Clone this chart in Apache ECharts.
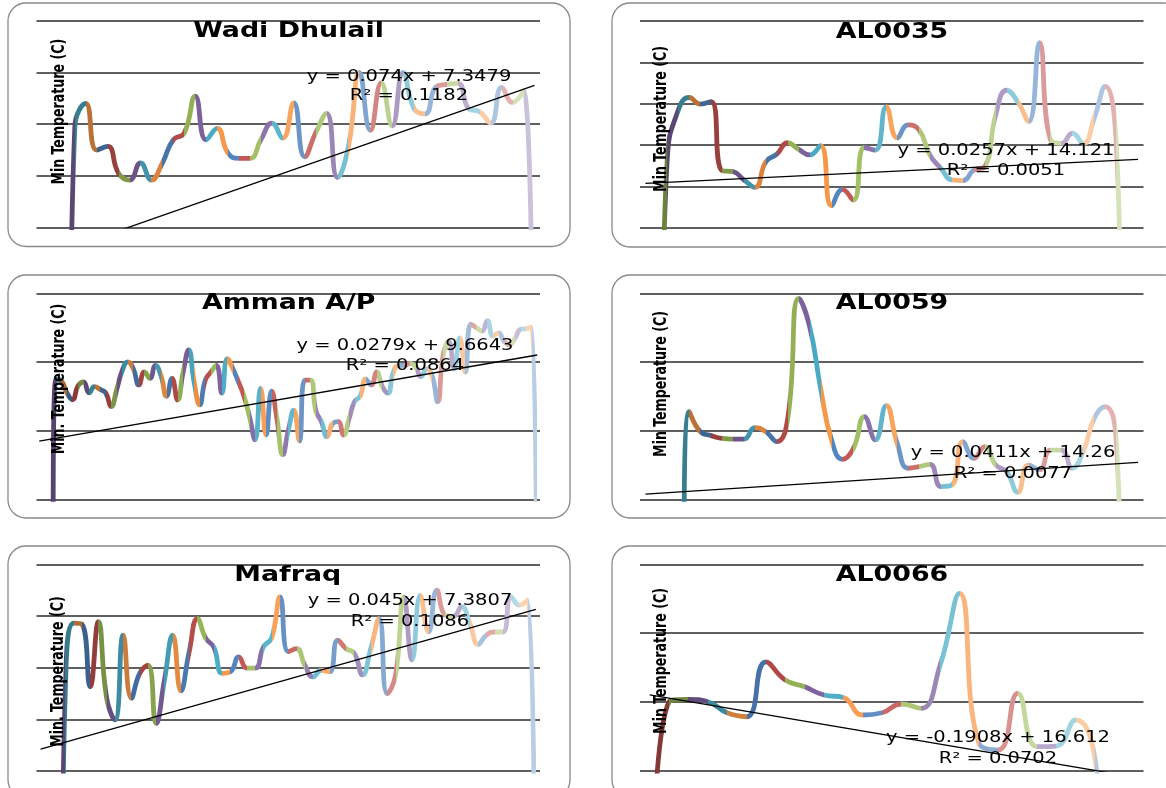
<!DOCTYPE html>
<html>
<head>
<meta charset="utf-8">
<script src="https://cdn.jsdelivr.net/npm/echarts@6.0.0/dist/echarts.min.js"></script>
<style>
html, body { margin: 0; padding: 0; background: #fff; }
#main { width: 1166px; height: 788px; }
</style>
</head>
<body>
<div id="main"></div>
<script>
// panel titles and y axis names
var titles = ['Wadi Dhulail', 'AL0035', 'Amman A/P', 'AL0059', 'Mafraq', 'AL0066'];
var yNames = ['Min Temperature (C)', 'Min Temperature (C)', 'Min. Temperature (C)',
              'Min Temperature (C)', 'Min. Temperature (C)', 'Min Temperature (C)'];

// min temperature per category (0 = empty cells, they fall below the axis)
var wadiDhulail = [0, 0, 0, 9.95, 10.4, 9.5, 9.57, 9.05, 8.92, 9.25, 8.92, 9.25, 9.7, 9.83, 10.54, 9.7,
  9.92, 9.44, 9.34, 9.34, 9.7, 10.02, 9.73, 10.41, 9.37, 9.83, 10.21, 8.97, 9.57, 11.0, 9.88, 10.8,
  9.97, 11.0, 10.3, 10.2, 10.72, 10.77, 10.79, 10.3, 10.24, 10.02, 10.71, 10.42, 10.64, 0];
var al0035 = [0, 0, 15.4, 17.69, 18.3, 17.98, 18.1, 14.76, 14.71, 14.31, 13.95, 15.19, 15.56, 16.11,
  15.79, 15.52, 15.97, 13.06, 13.85, 13.34, 15.88, 15.75, 17.85, 16.35, 16.97, 16.73, 15.5, 14.87,
  14.31, 14.28, 14.79, 14.95, 17.46, 18.65, 18.1, 17.13, 20.95, 16.25, 16.08, 16.57, 16.08, 17.3,
  18.83, 16.16, 0, 0];
var ammanAP = [0, 0, 0, 11.5, 11.45, 11.1, 10.9, 11.3, 11.42, 11.1, 11.28, 11.2, 11.1, 10.7, 11.2,
  11.75, 12.0, 11.8, 11.33, 11.71, 11.52, 11.9, 11.6, 11.0, 11.52, 10.89, 11.7, 12.35, 11.4, 10.75,
  11.47, 11.7, 11.9, 11.09, 12.1, 11.8, 11.42, 11.0, 10.4, 9.73, 11.23, 9.87, 11.15, 10.3, 9.3, 10.0,
  10.6, 9.7, 11.47, 11.47, 10.57, 10.26, 9.82, 10.2, 10.26, 9.87, 10.35, 10.85, 11.0, 11.5, 11.33,
  11.71, 11.28, 11.09, 11.71, 11.9, 11.9, 11.96, 11.85, 11.57, 11.8, 11.6, 10.84, 12.2, 12.6, 11.8,
  12.7, 11.7, 13.1, 13.0, 12.9, 13.2, 12.75, 12.85, 12.6, 12.5, 12.7, 12.95, 12.97, 13.02, 0];
var al0059 = [0, 0, 0, 0, 19.1, 17.94, 17.71, 17.55, 17.51, 17.51, 18.17, 17.94, 17.36, 18.72, 25.7,
  24.06, 20.47, 17.46, 16.33, 16.97, 18.82, 17.46, 19.46, 17.26, 15.81, 15.9, 16.04, 14.74, 14.83,
  17.36, 16.39, 17.07, 16.0, 15.61, 14.41, 16.0, 15.71, 16.87, 16.87, 15.81, 16.78, 18.72, 19.4,
  17.5, 0, 0];
var mafraq = [0, 0, 0, 8.6, 9.86, 9.84, 8.63, 9.89, 8.41, 7.99, 9.63, 8.41, 8.89, 9.05, 7.92, 8.76,
  9.63, 8.55, 9.31, 9.95, 9.57, 9.39, 8.89, 8.92, 9.21, 8.99, 8.99, 9.4, 9.58, 10.37, 9.31, 9.37,
  9.05, 8.82, 8.95, 8.92, 9.53, 9.37, 9.28, 8.86, 9.37, 9.95, 8.5, 8.86, 10.37, 9.15, 10.4, 9.69,
  10.5, 10.02, 9.99, 10.18, 9.86, 9.45, 9.63, 9.69, 9.69, 10.37, 10.21, 10.31, 0];
var al0066 = [0, 16.02, 16.16, 16.02, 15.38, 15.15, 18.34, 17.28, 16.89, 16.41, 16.27, 15.25, 15.38,
  15.89, 15.64, 18.15, 22.31, 13.61, 13.22, 16.51, 13.41, 13.45, 14.96, 12.68, 0, 0];

// linear trendlines y = a*x + b
var slopes = [0.074, 0.0257, 0.0279, 0.0411, 0.045, -0.1908];
var intercepts = [7.3479, 14.121, 9.6643, 14.26, 7.3807, 16.612];
var rSquared = ['0.1182', '0.0051', '0.0864', '0.0077', '0.1086', '0.0702'];

// gridline values of each y axis
var yTicks = [
  [8, 9, 10, 11, 12],
  [12, 14, 16, 18, 20, 22],
  [8, 10, 12, 14],
  [14, 18, 22, 26],
  [7, 8, 9, 10, 11],
  [12, 16, 20, 24]
];

var allValues = [wadiDhulail, al0035, ammanAP, al0059, mafraq, al0066];

// layout (px)
var plotRects = [[36.5, 20.7, 503.5, 207], [640, 21, 503.5, 206.7], [36.5, 293.3, 503.5, 206],
                 [640, 293.3, 503.5, 206], [36.5, 564.3, 503.5, 206.7], [640, 564.3, 503.5, 206.7]];
var boxes = [[8, 3, 562, 243.5], [612, 3, 570, 244], [8, 275, 562, 243], [612, 275, 570, 243],
             [8, 546, 562, 252], [612, 546, 570, 252]];
var titlePos = [[288.5, 31], [892, 32], [288.7, 303.5], [892, 303.5], [287.7, 575.5], [892, 575]];
var yNamePos = [[59, 111.7], [661, 119], [59, 379], [661, 384], [58.5, 671.6], [661, 661]];
var eqPos = [[409, 77, 96.5], [1006, 151, 171], [405, 346, 365.7], [1013, 453.5, 474.3],
             [410, 601, 621.7], [998, 738.3, 759.3]];

// Excel 2007 "vary colors by point": accents, dark at the start, light at the end
var accents = ['#4F81BD', '#C0504D', '#9BBB59', '#8064A2', '#4BACC6', '#F79646'];
function shadeColor(hex, f) {
  var c = [1, 3, 5].map(function (p) { return parseInt(hex.slice(p, p + 2), 16); });
  c = c.map(function (v) { return Math.round(f < 0 ? v * (1 + f) : v + (255 - v) * f); });
  return 'rgb(' + c.join(',') + ')';
}
function pointColor(k, n) {
  var t = (k - 1) / (n - 1);
  return shadeColor(accents[(k - 1) % 6], -0.35 + 0.95 * t);
}

var chart = echarts.init(document.getElementById('main'));
var grids = [], xAxes = [], yAxes = [], series = [], visualMaps = [], graphics = [];

for (var i = 0; i < 6; i++) {
  var vals = allValues[i];
  var n = vals.length;
  var ticks = yTicks[i];
  var r = plotRects[i];
  grids.push({ left: r[0], top: r[1], width: r[2], height: r[3] });
  xAxes.push({ type: 'value', gridIndex: i, min: 0.5, max: n + 0.5, show: false });
  yAxes.push({ type: 'value', gridIndex: i, min: ticks[0], max: ticks[ticks.length - 1], show: false });

  var sIdx = series.length;
  series.push({
    type: 'line', xAxisIndex: i, yAxisIndex: i,
    data: vals.map(function (v, j) { return [j + 1, v]; }),
    smooth: 0.5, showSymbol: false, symbol: 'none',
    lineStyle: { width: 4.8 }, z: 2, silent: true
  });
  var pieces = [];
  for (var k = 1; k <= n; k++) {
    pieces.push({ gt: k - 1, lte: k, color: pointColor(k, n) });
  }
  visualMaps.push({ type: 'piecewise', show: false, seriesIndex: sIdx, dimension: 0, pieces: pieces });

  var a = slopes[i], b = intercepts[i];
  series.push({
    type: 'line', xAxisIndex: i, yAxisIndex: i,
    data: [[1, a + b], [n, a * n + b]],
    symbol: 'none', lineStyle: { color: '#000', width: 1.3 }, z: 3, silent: true,
    markLine: {
      silent: true, z: 1, symbol: ['none', 'none'], label: { show: false },
      lineStyle: { color: '#2a2a2a', width: 1.5, type: 'solid' },
      data: ticks.map(function (t) { return { yAxis: t }; })
    }
  });

  var bx = boxes[i];
  graphics.push({
    type: 'rect', z: -10,
    shape: { x: bx[0], y: bx[1], width: bx[2], height: bx[3], r: 18 },
    style: { fill: '#fff', stroke: '#8a8a8a', lineWidth: 1.3 }
  });
  graphics.push({
    type: 'text', z: 100, x: titlePos[i][0], y: titlePos[i][1], scaleX: 1.22,
    style: { text: titles[i], fontSize: 22, fontWeight: 'bold', fontFamily: 'DejaVu Sans',
             fill: '#000', align: 'center', verticalAlign: 'middle' }
  });
  graphics.push({
    type: 'text', z: 100, x: yNamePos[i][0], y: yNamePos[i][1], rotation: Math.PI / 2, scaleY: 1.25,
    style: { text: yNames[i], fontSize: 14, fontWeight: 'bold', fontFamily: 'DejaVu Sans Condensed',
             fill: '#000', align: 'center', verticalAlign: 'middle' }
  });
  graphics.push({
    type: 'text', z: 100, x: eqPos[i][0], y: eqPos[i][1], scaleX: 1.3,
    style: { text: 'y = ' + a + 'x + ' + b, fontSize: 15, fontFamily: 'DejaVu Sans',
             fill: '#000', align: 'center', verticalAlign: 'middle' }
  });
  graphics.push({
    type: 'text', z: 100, x: eqPos[i][0], y: eqPos[i][2], scaleX: 1.3,
    style: { text: 'R² = ' + rSquared[i], fontSize: 15, fontFamily: 'DejaVu Sans',
             fill: '#000', align: 'center', verticalAlign: 'middle' }
  });
}

chart.setOption({
  animation: false,
  backgroundColor: '#fff',
  grid: grids,
  xAxis: xAxes,
  yAxis: yAxes,
  visualMap: visualMaps,
  series: series,
  graphic: { elements: graphics }
});
</script>
</body>
</html>
